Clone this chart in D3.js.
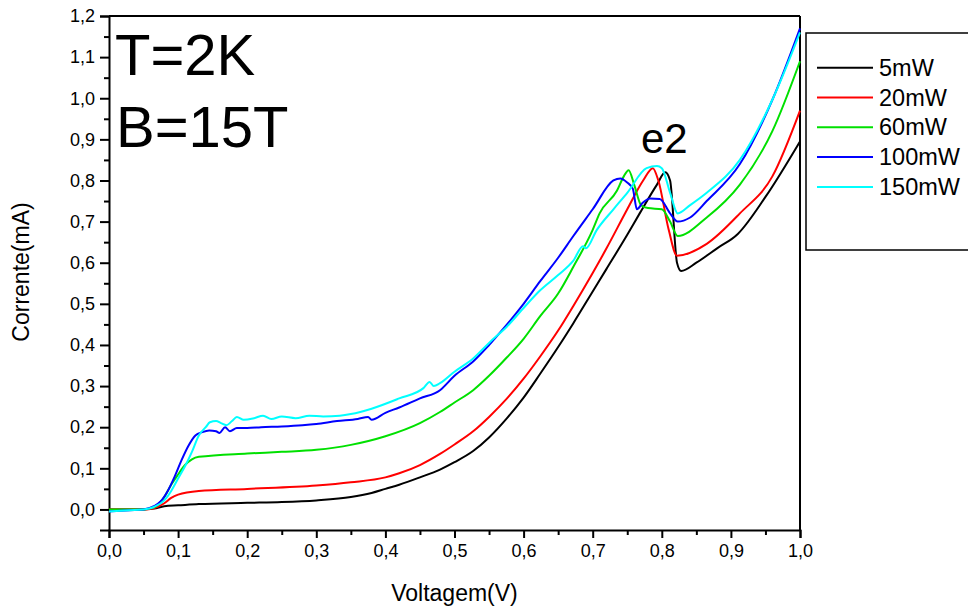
<!DOCTYPE html>
<html>
<head>
<meta charset="utf-8">
<script src="https://cdn.jsdelivr.net/npm/d3@7"></script>
<style>
  body { margin: 0; background: #fff; }
  svg { display: block; font-family: Arial, "Liberation Sans", sans-serif; }
</style>
</head>
<body>
<div id="chart"></div>
<script>
// ---- data, [Voltagem V, Corrente mA] ----
const seriesNames = ["5mW", "20mW", "60mW", "100mW", "150mW"];
const seriesColors = ["#000000", "#ff0000", "#00e000", "#0000ff", "#00ffff"];

const curve5 = [[0,0],[0.05,0],[0.065,0.002],[0.08,0.008],[0.1,0.01],[0.13,0.013],[0.2,0.016],[0.25,0.018],
  [0.3,0.022],[0.35,0.03],[0.38,0.04],[0.4,0.05],[0.42,0.06],[0.45,0.078],[0.479,0.097],[0.5,0.115],
  [0.527,0.142],[0.55,0.175],[0.576,0.222],[0.6,0.272],[0.624,0.33],[0.65,0.395],[0.672,0.453],[0.7,0.53],
  [0.72,0.585],[0.75,0.668],[0.768,0.72],[0.793,0.79],[0.805,0.82],[0.812,0.8],[0.822,0.6],[0.828,0.58],
  [0.85,0.6],[0.88,0.635],[0.91,0.67],[0.95,0.76],[1.0,0.895]];

const curve20 = [[0,0],[0.05,0],[0.065,0.003],[0.08,0.015],[0.09,0.028],[0.1,0.036],[0.13,0.045],[0.2,0.05],
  [0.3,0.058],[0.35,0.066],[0.4,0.078],[0.42,0.088],[0.45,0.108],[0.479,0.135],[0.5,0.158],[0.527,0.19],
  [0.55,0.225],[0.576,0.27],[0.6,0.318],[0.624,0.372],[0.65,0.435],[0.672,0.495],[0.7,0.575],[0.72,0.635],
  [0.75,0.73],[0.773,0.8],[0.787,0.83],[0.795,0.8],[0.81,0.68],[0.822,0.617],[0.865,0.646],[0.913,0.72],
  [0.96,0.81],[1.0,0.97]];

const curve60 = [[0,0],[0.05,0],[0.065,0.005],[0.08,0.03],[0.09,0.06],[0.1,0.085],[0.11,0.108],[0.12,0.122],
  [0.13,0.128],[0.2,0.136],[0.25,0.14],[0.3,0.145],[0.35,0.157],[0.4,0.178],[0.45,0.21],[0.479,0.237],
  [0.5,0.26],[0.527,0.29],[0.55,0.325],[0.576,0.37],[0.6,0.415],[0.624,0.47],[0.65,0.525],[0.672,0.59],
  [0.7,0.68],[0.71,0.72],[0.735,0.775],[0.745,0.81],[0.752,0.825],[0.76,0.79],[0.77,0.74],[0.78,0.733],
  [0.8,0.73],[0.812,0.7],[0.823,0.665],[0.865,0.71],[0.913,0.79],[0.96,0.92],[1.0,1.09]];

const curve100 = [[0,-0.005],[0.03,-0.002],[0.05,0],[0.065,0.008],[0.075,0.02],[0.085,0.045],[0.095,0.08],
  [0.105,0.12],[0.115,0.155],[0.125,0.18],[0.135,0.188],[0.145,0.192],[0.155,0.19],[0.16,0.186],[0.168,0.2],
  [0.175,0.19],[0.185,0.198],[0.2,0.198],[0.22,0.2],[0.25,0.202],[0.28,0.205],[0.3,0.208],[0.33,0.215],
  [0.36,0.22],[0.375,0.225],[0.38,0.218],[0.4,0.235],[0.42,0.248],[0.45,0.27],[0.479,0.29],[0.5,0.325],
  [0.527,0.36],[0.55,0.4],[0.576,0.45],[0.6,0.5],[0.624,0.555],[0.65,0.612],[0.672,0.665],[0.7,0.73],
  [0.73,0.8],[0.74,0.805],[0.75,0.795],[0.758,0.78],[0.764,0.73],[0.772,0.745],[0.783,0.756],[0.797,0.755],
  [0.812,0.72],[0.823,0.7],[0.841,0.71],[0.865,0.75],[0.913,0.84],[0.961,1.0],[1.0,1.17]];

const curve150 = [[0,-0.005],[0.03,-0.002],[0.05,0],[0.065,0.006],[0.08,0.022],[0.09,0.045],[0.1,0.075],
  [0.11,0.105],[0.12,0.14],[0.13,0.18],[0.14,0.2],[0.146,0.212],[0.155,0.215],[0.162,0.21],[0.17,0.205],
  [0.178,0.215],[0.185,0.225],[0.195,0.218],[0.21,0.222],[0.223,0.228],[0.235,0.22],[0.25,0.226],[0.27,0.222],
  [0.29,0.228],[0.31,0.226],[0.334,0.228],[0.35,0.232],[0.38,0.245],[0.42,0.27],[0.455,0.295],[0.464,0.31],
  [0.47,0.3],[0.479,0.307],[0.5,0.335],[0.527,0.367],[0.55,0.405],[0.576,0.445],[0.6,0.49],[0.624,0.533],
  [0.65,0.57],[0.672,0.605],[0.686,0.64],[0.69,0.635],[0.706,0.68],[0.73,0.73],[0.75,0.77],[0.778,0.83],
  [0.793,0.835],[0.8,0.83],[0.812,0.77],[0.823,0.72],[0.841,0.74],[0.865,0.77],[0.913,0.85],[0.961,1.0],[1.0,1.16]];

const curves = [curve5, curve20, curve60, curve100, curve150];

const xMajorTicks = [0, 0.1, 0.2, 0.3, 0.4, 0.5, 0.6, 0.7, 0.8, 0.9, 1.0];
const yMajorTicks = [0, 0.1, 0.2, 0.3, 0.4, 0.5, 0.6, 0.7, 0.8, 0.9, 1.0, 1.1, 1.2];

/***** setup *****/
const width = 968, height = 610;
const plot = {left: 109, right: 800, top: 16, bottom: 530};

const svg = d3.select("#chart").append("svg")
  .attr("width", width)
  .attr("height", height);

const x = d3.scaleLinear().domain([0, 1]).range([plot.left, plot.right]);
const y = d3.scaleLinear().domain([-0.05, 1.2]).range([plot.bottom, plot.top]);

const commaFmt = d3.formatLocale({decimal: ",", thousands: ".", grouping: [3], currency: ["", ""]}).format(".1f");

const xMinor = d3.range(0.05, 1.0, 0.1);
const yMinor = d3.range(0.05, 1.2, 0.1);

/***** axes *****/
svg.append("g")
  .attr("transform", `translate(0,${plot.bottom})`)
  .call(d3.axisBottom(x).tickValues(xMajorTicks).tickFormat(commaFmt).tickSize(8).tickPadding(6));
svg.append("g")
  .attr("transform", `translate(0,${plot.bottom})`)
  .call(d3.axisBottom(x).tickValues(xMinor).tickFormat("").tickSize(5))
  .select(".domain").remove();

svg.append("g")
  .attr("transform", `translate(${plot.left},0)`)
  .call(d3.axisLeft(y).tickValues(yMajorTicks).tickFormat(commaFmt).tickSize(9).tickPadding(5));
svg.append("g")
  .attr("transform", `translate(${plot.left},0)`)
  .call(d3.axisLeft(y).tickValues(yMinor).tickFormat("").tickSize(5))
  .select(".domain").remove();

svg.selectAll(".domain").attr("stroke", "#000").attr("stroke-width", 2);
svg.selectAll(".tick line").attr("stroke", "#000").attr("stroke-width", 2);
svg.selectAll(".tick text")
  .attr("fill", "#000")
  .style("font-size", "18px")
  .style("font-family", "Arial, 'Liberation Sans', sans-serif");

// top and right frame
svg.append("line")
  .attr("x1", plot.left).attr("x2", plot.right)
  .attr("y1", plot.top).attr("y2", plot.top)
  .attr("stroke", "#000").attr("stroke-width", 2);
svg.append("line")
  .attr("x1", plot.right).attr("x2", plot.right)
  .attr("y1", plot.top).attr("y2", plot.bottom)
  .attr("stroke", "#000").attr("stroke-width", 2);

/***** axis titles *****/
svg.append("text")
  .attr("x", (plot.left + plot.right) / 2)
  .attr("y", 601)
  .attr("text-anchor", "middle")
  .style("font-size", "23px")
  .text("Voltagem(V)");

svg.append("text")
  .attr("transform", `translate(29,${(plot.top + plot.bottom) / 2 - 1}) rotate(-90)`)
  .attr("text-anchor", "middle")
  .style("font-size", "23px")
  .text("Corrente(mA)");

/***** lines *****/
const line = d3.line()
  .x(d => x(d[0]))
  .y(d => y(d[1]))
  .curve(d3.curveMonotoneX);

svg.append("g").selectAll("path")
  .data(curves)
  .join("path")
  .attr("d", line)
  .attr("fill", "none")
  .attr("stroke", (d, i) => seriesColors[i])
  .attr("stroke-width", 2)
  .attr("stroke-linejoin", "round");

/***** annotations *****/
svg.append("text").attr("x", 115).attr("y", 75)
  .style("font-size", "58px").text("T=2K");
svg.append("text").attr("x", 116).attr("y", 147)
  .style("font-size", "58px").text("B=15T");
svg.append("text").attr("x", 641).attr("y", 153)
  .style("font-size", "42px").text("e2");

/***** legend *****/
const legend = svg.append("g");
legend.append("rect")
  .attr("x", 806).attr("y", 33)
  .attr("width", 200).attr("height", 217)
  .attr("fill", "#fff")
  .attr("stroke", "#000").attr("stroke-width", 1.5);

const rows = legend.selectAll(".row")
  .data(seriesNames)
  .join("g")
  .attr("class", "row")
  .attr("transform", (d, i) => `translate(0,${67.7 + i * 29.8})`);
rows.append("line")
  .attr("x1", 817).attr("x2", 873)
  .attr("stroke", (d, i) => seriesColors[i])
  .attr("stroke-width", 2);
rows.append("text")
  .attr("x", 879).attr("y", 8)
  .style("font-size", "23.5px")
  .text(d => d);
</script>
</body>
</html>
